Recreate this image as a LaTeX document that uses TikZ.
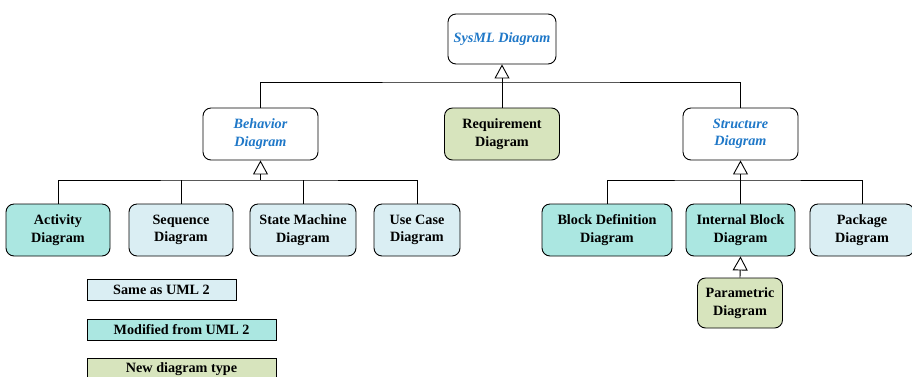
\documentclass[tikz,border=0pt]{standalone}
\usepackage{fontspec}
\setmainfont{Liberation Serif}
\usetikzlibrary{arrows.meta}
\definecolor{sameblue}{HTML}{DAEEF3}
\definecolor{modteal}{HTML}{ABE7E1}
\definecolor{newgreen}{HTML}{D7E4BD}
\definecolor{abstxt}{HTML}{1F78C8}
\tikzset{
  diag/.style={draw=black, line width=0.9pt, rounded corners=8pt, align=center,
    font=\bfseries\fontsize{14.2}{17.5}\selectfont, inner sep=0pt},
  abstract/.style={diag, fill=white, text=abstxt, font=\bfseries\itshape\fontsize{14.2}{17.5}\selectfont},
  same/.style={diag, fill=sameblue},
  modified/.style={diag, fill=modteal},
  newtype/.style={diag, fill=newgreen},
  legend/.style={draw=black, line width=0.9pt, align=center, inner sep=0pt,
    font=\bfseries\fontsize{14.2}{17.5}\selectfont, minimum height=21pt},
  link/.style={draw=black, line width=0.9pt},
  gen/.style={link, -{Triangle[open, width=15pt, length=14pt]}}
}
\begin{document}
\begin{tikzpicture}[x=1pt, y=-1pt]
\useasboundingbox (0,0) rectangle (912,376);

% root
\node[abstract, minimum width=108pt, minimum height=50pt] (sysml) at (502,39) {SysML Diagram};

% second level
\node[abstract, minimum width=115pt, minimum height=52pt] (behavior) at (260.5,134) {Behavior\\Diagram};
\node[newtype, minimum width=115pt, minimum height=52pt] (req) at (502,134) {Requirement\\Diagram};
\node[abstract, minimum width=115pt, minimum height=52pt] (structure) at (740.5,134) {Structure\\Diagram};

% behavior diagrams
\node[modified, minimum width=104pt, minimum height=52pt] (activity) at (58,230) {Activity\\Diagram};
\node[same, minimum width=104pt, minimum height=52pt] (sequence) at (181,230) {Sequence\\Diagram};
\node[same, minimum width=106pt, minimum height=52pt] (statem) at (303,230) {State Machine\\Diagram};
\node[same, minimum width=86pt, minimum height=52pt] (usecase) at (417,230) {Use Case\\Diagram};

% structure diagrams
\node[modified, minimum width=130pt, minimum height=52pt] (bdd) at (607,230) {Block Definition\\Diagram};
\node[modified, minimum width=109pt, minimum height=52pt] (ibd) at (740.5,230) {Internal Block\\Diagram};
\node[same, minimum width=104pt, minimum height=52pt] (pkg) at (862,230) {Package\\Diagram};
\node[newtype, minimum width=85pt, minimum height=50pt] (par) at (740,303) {Parametric\\Diagram};

% legend
\node[legend, fill=sameblue, minimum width=149pt] (lsame) at (161.5,289.5) {Same as UML 2};
\node[legend, fill=modteal, minimum width=189pt] (lmod) at (181.5,329.5) {Modified from UML 2};
\node[legend, fill=newgreen, minimum width=189pt, anchor=north] (lnew) at (181.5,358) {New diagram type};

% junction points of the generalization trees
\coordinate (top) at (502,82);
\coordinate (bbar) at (260.5,180);
\coordinate (sbar) at (740.5,180);

% root tree
\draw[link] (behavior.north) |- (top) -| (structure.north);
\draw[link] (req.north) -- (top);
\draw[gen] (top) -- (sysml.south);

% behavior tree
\draw[link] (activity.north) |- (bbar) -| (usecase.north);
\draw[link] (sequence.north) -- (sequence.north |- bbar);
\draw[link] (statem.north) -- (statem.north |- bbar);
\draw[gen] (bbar) -- (behavior.south);

% structure tree
\draw[link] (bdd.north) |- (sbar) -| (pkg.north);
\draw[link] (ibd.north) -- (sbar);
\draw[gen] (sbar) -- (structure.south);

% parametric specializes internal block
\draw[gen] (par.north) -- (ibd.south);
\end{tikzpicture}
\end{document}
